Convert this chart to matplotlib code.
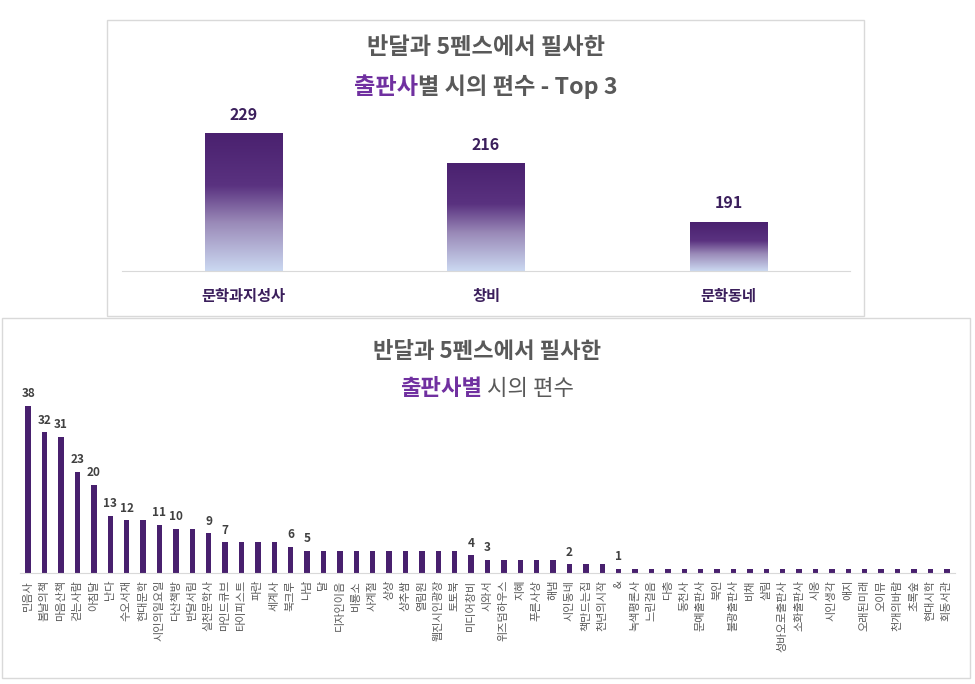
import matplotlib
matplotlib.use("Agg")
import matplotlib.pyplot as plt
import numpy as np
from matplotlib.colors import LinearSegmentedColormap
from matplotlib.patches import Rectangle

plt.rcParams["font.family"] = ["Noto Sans CJK KR", "DejaVu Sans"]

# --- data -------------------------------------------------------------
top_publishers = ["문학과지성사", "창비", "문학동네"]
top_counts = [229, 216, 191]

publishers = [
    "민음사", "봄날의책", "마음산책", "걷는사람", "아침달", "난다", "수오서재",
    "현대문학", "시인의일요일", "다산책방", "반달서림", "실천문학사", "마인드큐브",
    "타이피스트", "파란", "세계사", "북크루", "나남", "달", "디자인이음", "비룡소",
    "사계절", "상상", "상추쌈", "열림원", "웹진시인광장", "토토북", "미디어창비",
    "시와서", "위즈덤하우스", "지혜", "푸른사상", "해냄", "시인동네", "책만드는집",
    "천년의시작", "&", "녹색평론사", "느린걸음", "다층", "동천사", "문예출판사",
    "북인", "불광출판사", "비채", "살림", "성바오로출판사", "소화출판사", "시옹",
    "시인생각", "애지", "오래된미래", "오이뮤", "천개의바람", "초록숲", "현대시학",
    "회동서관",
]
counts = [
    38, 32, 31, 23, 20, 13, 12, 12, 11, 10, 10, 9, 7, 7, 7, 7, 6,
    5, 5, 5, 5, 5, 5, 5, 5, 5, 5, 4, 3, 3, 3, 3, 3, 2, 2, 2,
    1, 1, 1, 1, 1, 1, 1, 1, 1, 1, 1, 1, 1, 1, 1, 1, 1, 1, 1, 1, 1,
]

GRAY = "#595959"
PURPLE = "#7030A0"
DARK = "#3B1F5C"
BAR = "#48206E"
GRID = "#D9D9D9"

W, H = 975, 684
fig = plt.figure(figsize=(W / 100, H / 100), dpi=100)
fig.patch.set_facecolor("white")


def fx(px):
    return px / W


def fy(py):
    return 1 - py / H


def panel(x0, y0, x1, y1):
    fig.patches.append(Rectangle((fx(x0), fy(y1)), fx(x1 - x0), (y1 - y0) / H,
                                 transform=fig.transFigure, facecolor="white",
                                 edgecolor=GRID, linewidth=1, zorder=-5))


def title_line(cx, cy, parts, size):
    """Place coloured pieces of one line centred at (cx, cy) in pixels."""
    r = fig.canvas.get_renderer()
    texts = []
    for s, color, weight in parts:
        t = fig.text(0, fy(cy), s, color=color, fontsize=size, fontweight=weight,
                     va="center", ha="left")
        texts.append(t)
    widths = [t.get_window_extent(r).width for t in texts]
    x = cx - sum(widths) / 2
    for t, w in zip(texts, widths):
        t.set_x(fx(x))
        x += w


panel(107, 20, 864, 316)
panel(2, 318, 970, 678)

# --- top chart --------------------------------------------------------
ax1 = fig.add_axes([fx(122), fy(271), fx(728), 163 / H])
cmap = LinearSegmentedColormap.from_list(
    "fade", [(0, "#CBD8F1"), (0.35, "#9A8AB8"), (0.62, "#5A3280"), (1, "#4A216F")])
bw = 0.32
x1 = np.arange(len(top_publishers))
grad = np.linspace(0, 1, 256).reshape(-1, 1)
for xi, v in zip(x1, top_counts):
    ax1.imshow(grad, cmap=cmap, origin="lower", aspect="auto",
               extent=(xi - bw / 2, xi + bw / 2, 170, v), zorder=2)
    ax1.annotate(str(v), (xi, v), xytext=(0, 8), textcoords="offset points",
                 ha="center", va="bottom", fontsize=11.5, fontweight="bold", color=DARK)
ax1.set_xlim(-0.5, 2.5)
ax1.set_ylim(170, 240)
ax1.set_xticks(x1)
ax1.set_xticklabels(top_publishers, fontsize=11, fontweight="bold", color=DARK)
ax1.tick_params(axis="x", length=0, pad=12)
ax1.set_yticks([])
ax1.patch.set_alpha(0)
for side in ["top", "left", "right"]:
    ax1.spines[side].set_visible(False)
ax1.spines["bottom"].set_color(GRID)

# --- bottom chart -----------------------------------------------------
ax2 = fig.add_axes([fx(20), fy(573), fx(935), 176 / H])
x2 = np.arange(len(publishers))
ax2.bar(x2, counts, width=0.33, color=BAR, zorder=2)
seen = set()
for xi, v in zip(x2, counts):
    if v in seen:
        continue
    seen.add(v)
    ax2.annotate(str(v), (xi, v), xytext=(0, 4), textcoords="offset points",
                 ha="center", va="bottom", fontsize=8.5, fontweight="bold", color="#404040")
ax2.set_xlim(-0.5, len(publishers) - 0.5)
ax2.set_ylim(0, 40)
ax2.set_xticks(x2)
ax2.set_xticklabels(publishers, rotation=90, fontsize=8, color=GRAY, va="top", ha="center")
ax2.tick_params(axis="x", length=0, pad=5)
ax2.set_yticks([])
ax2.patch.set_alpha(0)
for side in ["top", "left", "right"]:
    ax2.spines[side].set_visible(False)
ax2.spines["bottom"].set_color(GRID)

# --- titles -----------------------------------------------------------
title_line(486, 48, [("반달과 5펜스에서 필사한", GRAY, "bold")], 16.7)
title_line(486, 87, [("출판사", PURPLE, "bold"), ("별 시의 편수 - Top 3", GRAY, "bold")], 16.7)
title_line(487, 352, [("반달과 5펜스에서 필사한", GRAY, "bold")], 16)
title_line(487, 389, [("출판사별", PURPLE, "bold"), (" 시의 편수", GRAY, "normal")], 16)

fig.savefig("out.png", dpi=100)
